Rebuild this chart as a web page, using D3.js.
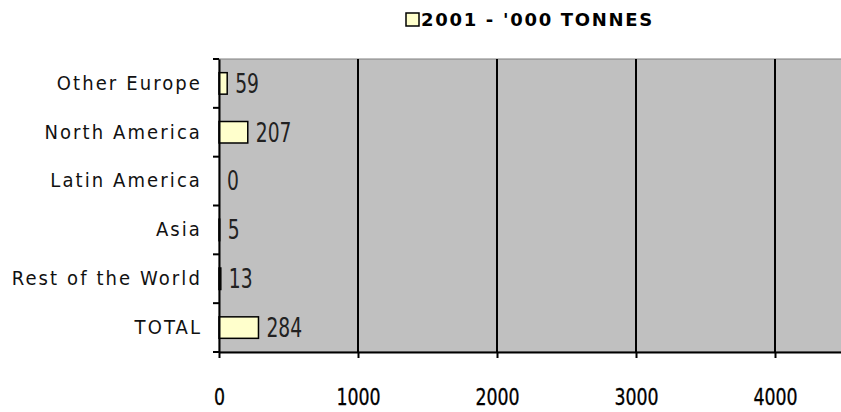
<!DOCTYPE html>
<html>
<head>
<meta charset="utf-8">
<script src="https://cdn.jsdelivr.net/npm/d3@7"></script>
<style>
  body { margin: 0; background: #fff; overflow: hidden; }
  #chart { width: 841px; height: 412px; }
</style>
</head>
<body>
<div id="chart"></div>
<script>
// Data
const categories = ["Other Europe", "North America", "Latin America", "Asia", "Rest of the World", "TOTAL"];
const values = [59, 207, 0, 5, 13, 284];
const xTicks = [0, 1000, 2000, 3000, 4000];
const xMax = 5000;
const seriesName = "2001 - '000 TONNES";

const width = 841, height = 412;
const margin = { top: 59, left: 219, bottom: 60 };
const plotRight = 914; // plot runs past the window edge, as in the reference
const narrow = "'DejaVu Sans Condensed', 'DejaVu Sans', sans-serif";

const svg = d3.select("#chart").append("svg")
  .attr("width", width)
  .attr("height", height);

const x = d3.scaleLinear().domain([0, xMax]).range([margin.left, plotRight]);
const y = d3.scaleBand().domain(categories).range([margin.top, height - margin.bottom]);

// Plot background
svg.append("rect")
  .attr("x", margin.left)
  .attr("y", margin.top)
  .attr("width", plotRight - margin.left)
  .attr("height", y.range()[1] - margin.top)
  .attr("fill", "#c0c0c0")
  .attr("stroke", "#808080")
  .attr("stroke-width", 1);

// Vertical gridlines
svg.append("g")
  .selectAll("line")
  .data(xTicks.slice(1))
  .join("line")
  .attr("x1", d => x(d)).attr("x2", d => x(d))
  .attr("y1", margin.top).attr("y2", y.range()[1])
  .attr("stroke", "#000")
  .attr("stroke-width", 2);

// Bars
const barH = y.bandwidth() * 0.44;
svg.append("g")
  .selectAll("rect")
  .data(categories)
  .join("rect")
  .attr("x", x(0))
  .attr("y", d => y(d) + (y.bandwidth() - barH) / 2)
  .attr("width", (d, i) => x(values[i]) - x(0))
  .attr("height", barH)
  .attr("fill", "#ffffcc")
  .attr("stroke", "#000")
  .attr("stroke-width", 1.5);

// Value labels (tall, narrow digits like the original)
svg.append("g")
  .selectAll("text")
  .data(categories)
  .join("text")
  .attr("transform", (d, i) => `translate(${x(values[i]) + 8},${y(d) + y.bandwidth() / 2}) scale(0.8,1)`)
  .attr("dy", "0.36em")
  .style("font-family", narrow)
  .style("font-size", "26px")
  .style("fill", "#222")
  .text((d, i) => values[i]);

// Y axis
const yAxis = svg.append("g")
  .attr("transform", `translate(${margin.left},0)`)
  .call(d3.axisLeft(y).tickSize(0).tickPadding(17));
yAxis.select(".domain").attr("stroke", "#000").attr("stroke-width", 2);
yAxis.selectAll("text")
  .style("font-family", narrow)
  .style("font-size", "20px")
  .style("letter-spacing", "2.1px")
  .style("fill", "#111");
// tick marks sit on band boundaries
const boundaries = categories.map(d => y(d)).concat([y.range()[1]]);
svg.append("g")
  .selectAll("line")
  .data(boundaries)
  .join("line")
  .attr("x1", margin.left - 6).attr("x2", margin.left)
  .attr("y1", d => d).attr("y2", d => d)
  .attr("stroke", "#000").attr("stroke-width", 2);

// X axis
const xAxis = svg.append("g")
  .attr("transform", `translate(0,${y.range()[1]})`)
  .call(d3.axisBottom(x).tickValues(xTicks).tickSize(6).tickSizeOuter(0).tickPadding(31).tickFormat(d3.format("d")));
xAxis.select(".domain").attr("stroke", "#000").attr("stroke-width", 2);
xAxis.selectAll(".tick line").attr("stroke", "#000").attr("stroke-width", 2);
xAxis.selectAll("text")
  .attr("transform", "scale(0.84,1)")
  .style("font-family", narrow)
  .style("font-size", "23px")
  .style("fill", "#000")
  .style("stroke", "#000")
  .style("stroke-width", "0.3px");

// Legend
const legend = svg.append("g").attr("transform", "translate(406,13)");
legend.append("rect")
  .attr("width", 13).attr("height", 13)
  .attr("fill", "#ffffcc")
  .attr("stroke", "#000").attr("stroke-width", 1.5);
legend.append("text")
  .attr("x", 15)
  .attr("y", 7)
  .attr("dy", "0.36em")
  .style("font-family", "'DejaVu Sans', sans-serif")
  .style("font-size", "18px")
  .style("font-weight", "bold")
  .style("letter-spacing", "1.7px")
  .style("fill", "#000")
  .text(seriesName);
</script>
</body>
</html>
